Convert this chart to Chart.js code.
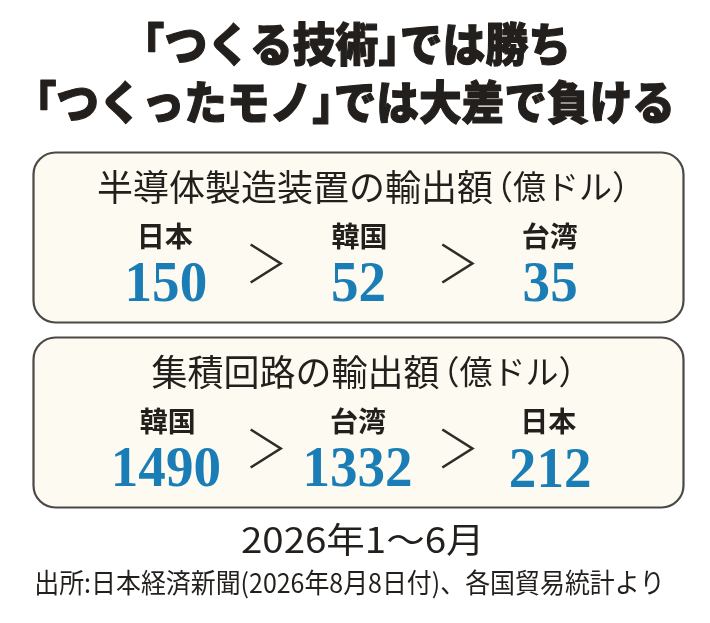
<!DOCTYPE html>
<html lang="ja">
<head>
<meta charset="utf-8">
<script src="https://cdn.jsdelivr.net/npm/chart.js"></script>
<style>
  html, body { margin: 0; padding: 0; background: #fff; }
  canvas { display: block; }
</style>
</head>
<body>
<canvas id="infographic" width="710" height="623"></canvas>

<script>
    // data
    const titleLines = ["「つくる技術」では勝ち", "「つくったモノ」では大差で負ける"];
    const panelTitles = ["半導体製造装置の輸出額", "集積回路の輸出額"];
    const unitLabel = "（億ドル）";
    const equipCountries = ["日本", "韓国", "台湾"];
    const equipValues = [150, 52, 35];
    const chipCountries = ["韓国", "台湾", "日本"];
    const chipValues = [1490, 1332, 212];
    const slots = ["1位", "2位", "3位"];
    const periodLabel = "2026年1～6月";
    const sourceLabel = "出所:日本経済新聞(2026年8月8日付)、各国貿易統計より";

    const JP = "'Noto Sans CJK JP', 'Noto Sans', sans-serif";
    const SERIF = "'Liberation Serif', 'DejaVu Serif', serif";
    const BLUE = "#1b7db6";
    const INK = "#231f1c";

    function inkBox(ctx, text, font) {
        ctx.font = font;
        const m = ctx.measureText(text);
        return {
            l: -m.actualBoundingBoxLeft, r: m.actualBoundingBoxRight,
            asc: m.actualBoundingBoxAscent, desc: m.actualBoundingBoxDescent
        };
    }

    // draws text with its ink centred on (cx, cy), optionally squeezed to a width
    function drawInk(ctx, text, cx, cy, font, color, opts) {
        opts = opts || {};
        ctx.save();
        const b = inkBox(ctx, text, font);
        const w = b.r - b.l;
        const s = opts.width ? opts.width / w : (opts.sx || 1);
        ctx.fillStyle = color;
        ctx.textAlign = "left";
        let y = cy;
        if (opts.middle) {
            ctx.textBaseline = "middle";
        } else {
            ctx.textBaseline = "alphabetic";
            y = cy + (b.asc - b.desc) / 2;
        }
        ctx.translate(cx, y);
        ctx.scale(s, 1);
        ctx.fillText(text, -(b.l + b.r) / 2, 0);
        ctx.restore();
        return w * s;
    }

    // headline: brackets set half width (like palt), squeezed to the given ink width
    function drawHeadline(ctx, text, cx, cy, size, width) {
        ctx.save();
        ctx.font = "900 " + size + "px " + JP;
        ctx.textAlign = "left";
        ctx.textBaseline = "middle";
        const glyphs = [];
        let pen = 0;
        for (const ch of text) {
            const adv = ctx.measureText(ch).width;
            if (ch === "「") {
                glyphs.push({ch, x: pen - adv * 0.5});
                pen += adv * 0.5;
            } else if (ch === "」") {
                glyphs.push({ch, x: pen});
                pen += adv * 0.5;
            } else {
                glyphs.push({ch, x: pen});
                pen += adv;
            }
        }
        const s = width / pen;
        ctx.translate(cx - width / 2, cy);
        ctx.scale(s, 1);
        ctx.fillStyle = INK;
        ctx.strokeStyle = INK;
        ctx.lineWidth = 1.2;
        ctx.lineJoin = "round";
        glyphs.forEach(g => {
            ctx.fillText(g.ch, g.x, 0);
            ctx.strokeText(g.ch, g.x, 0);
        });
        ctx.restore();
    }

    function roundRect(ctx, x, y, w, h, r) {
        ctx.beginPath();
        ctx.moveTo(x + r, y);
        ctx.arcTo(x + w, y, x + w, y + h, r);
        ctx.arcTo(x + w, y + h, x, y + h, r);
        ctx.arcTo(x, y + h, x, y, r);
        ctx.arcTo(x, y, x + w, y, r);
        ctx.closePath();
    }

    const panelPlugin = {
        id: "panels",
        beforeDraw(chart) {
            const ctx = chart.ctx;
            ctx.save();
            ctx.fillStyle = "#fff";
            ctx.fillRect(0, 0, chart.width, chart.height);
            ctx.restore();
        },
        afterDatasetsDraw(chart) {
            const ctx = chart.ctx;
            const area = chart.chartArea;
            const cx = (area.left + area.right) / 2;

            // headline
            drawHeadline(ctx, titleLines[0], 357, 44, 46, 428);
            drawHeadline(ctx, titleLines[1], 355, 102, 46, 640);

            chart.data.datasets.forEach((ds, di) => {
                const pts = chart.getDatasetMeta(di).data;
                const rowY = pts[0].y;

                // panel frame
                ctx.save();
                roundRect(ctx, area.left - 37.5, rowY - 130, (area.right - area.left) + 75, 170, 22);
                ctx.fillStyle = "#fcfaf1";
                ctx.fill();
                ctx.lineWidth = 2.2;
                ctx.strokeStyle = "#4b4845";
                ctx.stroke();
                ctx.restore();

                // panel heading + unit
                const fA = "400 36px " + JP, fB = "400 33px " + JP;
                const a = inkBox(ctx, ds.label, fA), b = inkBox(ctx, unitLabel, fB);
                const wA = a.r - a.l, wB = b.r - b.l, gap = 9;
                const start = cx + 2 - (wA + gap + wB) / 2;
                const headY = rowY - 96;
                drawInk(ctx, ds.label, start + wA / 2, headY, fA, INK);
                drawInk(ctx, unitLabel, start + wA + gap + wB / 2, headY, fB, INK, {middle: true});

                // country names and values
                pts.forEach((pt, i) => {
                    const raw = ds.data[i];
                    drawInk(ctx, raw.name, pt.x, pt.y - 47, "700 28px " + JP, INK);
                    drawInk(ctx, String(raw.value), pt.x, pt.y, "700 58px " + SERIF, BLUE, {sx: 0.95});
                });

                // ">" between neighbours
                ctx.save();
                ctx.strokeStyle = "#2e2b29";
                ctx.lineWidth = 2.6;
                ctx.lineJoin = "miter";
                for (let i = 0; i < pts.length - 1; i++) {
                    const mx = (pts[i].x + pts[i + 1].x) / 2 + 3;
                    const my = rowY - 19;
                    ctx.beginPath();
                    ctx.moveTo(mx - 15, my - 19);
                    ctx.lineTo(mx + 15, my);
                    ctx.lineTo(mx - 15, my + 19);
                    ctx.stroke();
                }
                ctx.restore();
            });

            // footer
            drawInk(ctx, periodLabel, 360, 539, "400 35px " + JP, INK, {width: 236});
            drawInk(ctx, sourceLabel, 348.5, 584, "400 27px " + JP, INK, {width: 623});
        }
    };

    new Chart(document.getElementById("infographic"), {
        type: "line",
        data: {
            labels: slots,
            datasets: [
                {
                    label: panelTitles[0],
                    data: equipValues.map((v, i) => ({x: i, y: 0, value: v, name: equipCountries[i]})),
                    showLine: false,
                    pointRadius: 0
                },
                {
                    label: panelTitles[1],
                    data: chipValues.map((v, i) => ({x: i, y: 1, value: v, name: chipCountries[i]})),
                    showLine: false,
                    pointRadius: 0
                }
            ]
        },
        options: {
            responsive: false,
            animation: false,
            devicePixelRatio: 1,
            layout: {padding: {left: 71, right: 64, top: 282.5, bottom: 155.5}},
            plugins: {legend: {display: false}, tooltip: {enabled: false}},
            scales: {
                x: {type: "category", offset: true, display: false},
                y: {type: "linear", min: 0, max: 1, reverse: true, display: false}
            }
        },
        plugins: [panelPlugin]
    });
</script>
</body>
</html>
